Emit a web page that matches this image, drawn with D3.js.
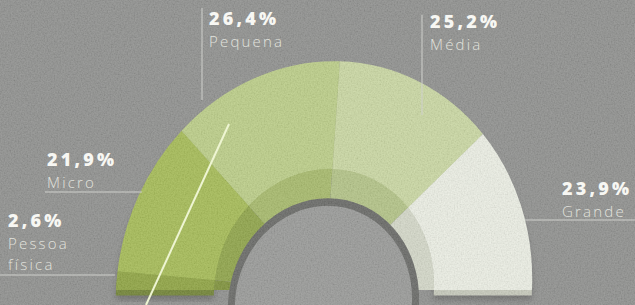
<!DOCTYPE html>
<html>
<head>
<meta charset="utf-8">
<script src="https://cdn.jsdelivr.net/npm/d3@7"></script>
<style>
  html, body { margin: 0; padding: 0; background: #8e8f8d; }
  svg { display: block; }
</style>
</head>
<body>
<div id="chart"></div>
<script>
// data
const categories = ['Pessoa física', 'Micro', 'Pequena', 'Média', 'Grande'];
const shares = [2.6, 21.9, 26.4, 25.2, 23.9];
const shareLabels = ['2,6%', '21,9%', '26,4%', '25,2%', '23,9%'];

// colours per slice: top face, inner wall, front side
const faceColors = ['#8ea43e', '#a5bc52', '#bccf86', '#cbd9a2', '#eef1e6'];
const wallColors = ['#7d9136', '#8ea445', '#a6ba68', '#b3c485', '#d5d9c9'];
const sideColors = ['#6f8230', '#7f9439', '#93a658', '#a0b06e', '#c7cabb'];

// label layout (x, y of the percent line, leader line)
const labelLayout = [
  {x: 8,   y: 227, leader: [0, 275, 115, 275]},
  {x: 47,  y: 166, leader: [45, 192, 142, 192]},
  {x: 209, y: 25,  leader: [202, 8, 202, 100]},
  {x: 430, y: 28,  leader: [422, 15, 422, 115]},
  {x: 562, y: 195, leader: [525, 220, 635, 220]}
];
// the long name wraps on two lines
const nameLines = [['Pessoa', 'física'], ['Micro'], ['Pequena'], ['Média'], ['Grande']];

const width = 635;
const height = 305;
const cx = 324;
const cy = 290;
const sy = 1.1;
const outerR = 208;
const innerR = 110;
const holeR = 92;

const svg = d3.select('#chart')
  .append('svg')
  .attr('width', width)
  .attr('height', height);

const defs = svg.append('defs');

// paper grain
const grain = defs.append('filter').attr('id', 'grain')
  .attr('x', 0).attr('y', 0).attr('width', '100%').attr('height', '100%');
grain.append('feTurbulence')
  .attr('type', 'fractalNoise')
  .attr('baseFrequency', 0.7)
  .attr('numOctaves', 2)
  .attr('seed', 3);
grain.append('feColorMatrix')
  .attr('type', 'matrix')
  .attr('values', '1 0 0 0 -0.05  1 0 0 0 -0.05  1 0 0 0 -0.05  0 0 0 0 0.16');

const blur = defs.append('filter').attr('id', 'blur');
blur.append('feGaussianBlur').attr('stdDeviation', 3);

svg.append('rect')
  .attr('width', width)
  .attr('height', height)
  .attr('fill', '#8e8f8d');

const pie = d3.pie()
  .value((d) => d)
  .sort(null)
  .startAngle(-Math.PI / 2)
  .endAngle(Math.PI / 2);

const slices = pie(shares);

const faceArc = d3.arc().innerRadius(innerR).outerRadius(outerR);
const wallArc = d3.arc().innerRadius(0).outerRadius(innerR);

// slight skew to follow the photographed perspective
const g = svg.append('g')
  .attr('transform', `translate(${cx},${cy}) skewX(-2.5) scale(1,${sy})`);

// soft shadow below the block
g.append('g')
  .attr('transform', 'translate(0,9)')
  .selectAll('path')
  .data(slices)
  .enter()
  .append('path')
  .attr('d', faceArc)
  .attr('fill', '#6a6b69')
  .attr('filter', 'url(#blur)');

// front side of the block
g.append('g')
  .attr('transform', 'translate(0,5)')
  .selectAll('path')
  .data(slices)
  .enter()
  .append('path')
  .attr('d', faceArc)
  .attr('fill', (d, i) => sideColors[i]);

// inner wall
g.append('g')
  .selectAll('path')
  .data(slices)
  .enter()
  .append('path')
  .attr('d', wallArc)
  .attr('fill', (d, i) => wallColors[i]);

// the hole
g.append('ellipse')
  .attr('cx', 0)
  .attr('cy', 12)
  .attr('rx', holeR)
  .attr('ry', holeR)
  .attr('fill', '#989997')
  .attr('stroke', '#666764')
  .attr('stroke-width', 7);

// top face
g.append('g')
  .selectAll('path')
  .data(slices)
  .enter()
  .append('path')
  .attr('d', faceArc)
  .attr('fill', (d, i) => faceColors[i]);

// grain over everything
svg.append('rect')
  .attr('width', width)
  .attr('height', height)
  .attr('filter', 'url(#grain)');

// callout line crossing the block
svg.append('line')
  .attr('x1', 229).attr('y1', 124)
  .attr('x2', 146).attr('y2', 305)
  .attr('stroke', '#eef5d2')
  .attr('stroke-width', 2);

// labels
const labels = svg.append('g').attr('class', 'labels');

labels.selectAll('line')
  .data(labelLayout)
  .enter()
  .append('line')
  .attr('x1', (d) => d.leader[0])
  .attr('y1', (d) => d.leader[1])
  .attr('x2', (d) => d.leader[2])
  .attr('y2', (d) => d.leader[3])
  .attr('stroke', '#cfd0cc')
  .attr('stroke-width', 1);

labels.selectAll('text.pct')
  .data(labelLayout)
  .enter()
  .append('text')
  .attr('class', 'pct')
  .attr('x', (d) => d.x)
  .attr('y', (d) => d.y)
  .attr('fill', '#f7f7f3')
  .style('font-family', '"Open Sans", sans-serif')
  .style('font-weight', 800)
  .style('font-size', '18px')
  .style('letter-spacing', '3.2px')
  .text((d, i) => shareLabels[i]);

labelLayout.forEach((d, i) => {
  nameLines[i].forEach((line, j) => {
    labels.append('text')
      .attr('x', d.x)
      .attr('y', d.y + 22 + j * 21)
      .attr('fill', '#e2e3de')
      .style('font-family', '"Open Sans", sans-serif')
      .style('font-weight', 300)
      .style('font-size', '15px')
      .style('letter-spacing', '2.2px')
      .text(line);
  });
});
</script>
</body>
</html>
